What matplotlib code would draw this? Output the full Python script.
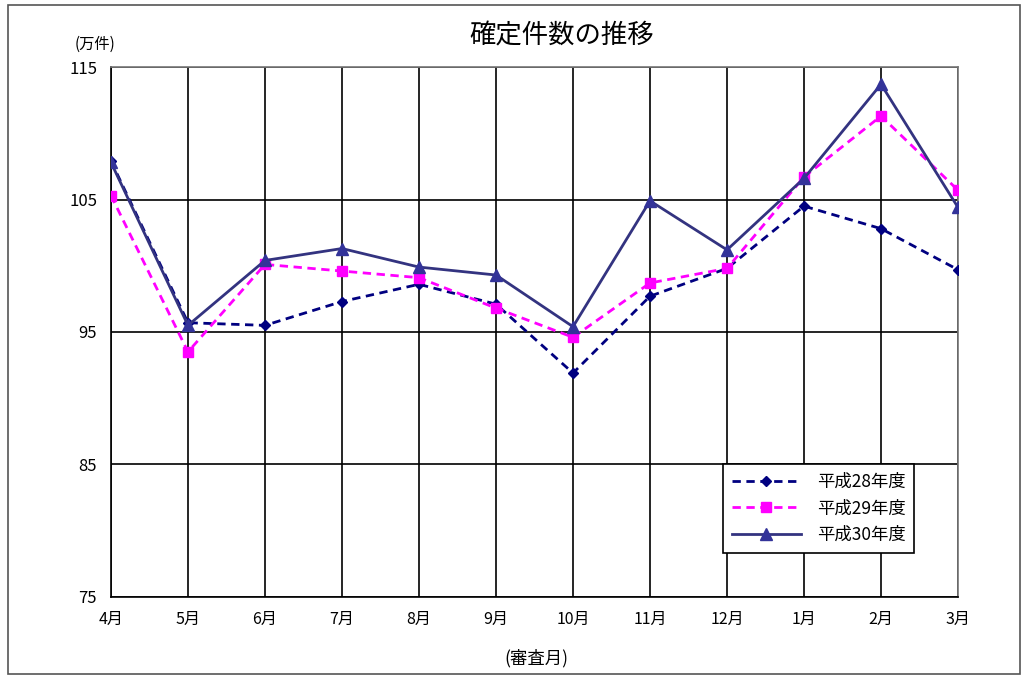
import numpy as np
import matplotlib.pyplot as plt

plt.rcParams['font.family'] = ['Noto Sans CJK JP', 'DejaVu Sans']

months = ['4月', '5月', '6月', '7月', '8月', '9月', '10月', '11月', '12月', '1月', '2月', '3月']
h28 = [107.9, 95.7, 95.5, 97.3, 98.6, 97.1, 91.9, 97.7, 99.8, 104.5, 102.8, 99.7]
h29 = [105.3, 93.5, 100.1, 99.6, 99.1, 96.8, 94.6, 98.7, 99.8, 106.7, 111.3, 105.7]
h30 = [107.8, 95.5, 100.4, 101.3, 99.9, 99.3, 95.4, 104.9, 101.2, 106.6, 113.7, 104.4]
yticks = [75, 85, 95, 105, 115]

fig = plt.figure(figsize=(10.22, 6.79), dpi=100)
# outer chart frame
fig.patches.append(plt.Rectangle((0.008, 0.008), 0.99, 0.984, transform=fig.transFigure,
                                 fill=False, edgecolor='#555555', linewidth=1.2))
ax = fig.add_axes([0.1086, 0.1208, 0.8288, 0.7805])

x = np.arange(len(months))
ax.plot(x, h28, color='#000080', linestyle=(0, (3, 2)), linewidth=2, marker='D',
        markersize=5, label='平成28年度', zorder=3)
ax.plot(x, h29, color='#FF00FF', linestyle=(0, (3, 2)), linewidth=2, marker='s',
        markersize=7, label='平成29年度', zorder=4)
ax.plot(x, h30, color='#333380', linestyle='-', linewidth=2, marker='^',
        markerfacecolor='#333399', markeredgecolor='#333399',
        markersize=8, label='平成30年度', zorder=5)

ax.set_xlim(0, len(months) - 1)
ax.set_ylim(75, 115)
ax.set_xticks(x)
ax.set_xticklabels(months, fontsize=11.5)
ax.set_yticks(yticks)
ax.set_yticklabels([str(v) for v in yticks], fontsize=12)
ax.tick_params(length=0, pad=10)
ax.grid(True, color='black', linewidth=1.2)
ax.set_axisbelow(True)
for s in ax.spines.values():
    s.set_color('black')
    s.set_linewidth(1.2)
ax.spines['top'].set_color('#777777')
ax.spines['right'].set_color('#777777')

fig.text(0.55, 0.947, '確定件数の推移', ha='center', va='center', fontsize=19)
fig.text(0.093, 0.934, '(万件)', ha='center', va='center', fontsize=11)
fig.text(0.525, 0.031, '(審査月)', ha='center', va='center', fontsize=12.5)

leg = ax.legend(loc='upper left', bbox_to_anchor=(0.7225, 0.251), fontsize=12.5,
                frameon=True, fancybox=False, edgecolor='black', framealpha=1,
                handlelength=4.0, labelspacing=0.5, borderpad=0.5,
                borderaxespad=0, handletextpad=0.9)
leg.get_frame().set_linewidth(1.2)

fig.savefig('out.png', dpi=100)
